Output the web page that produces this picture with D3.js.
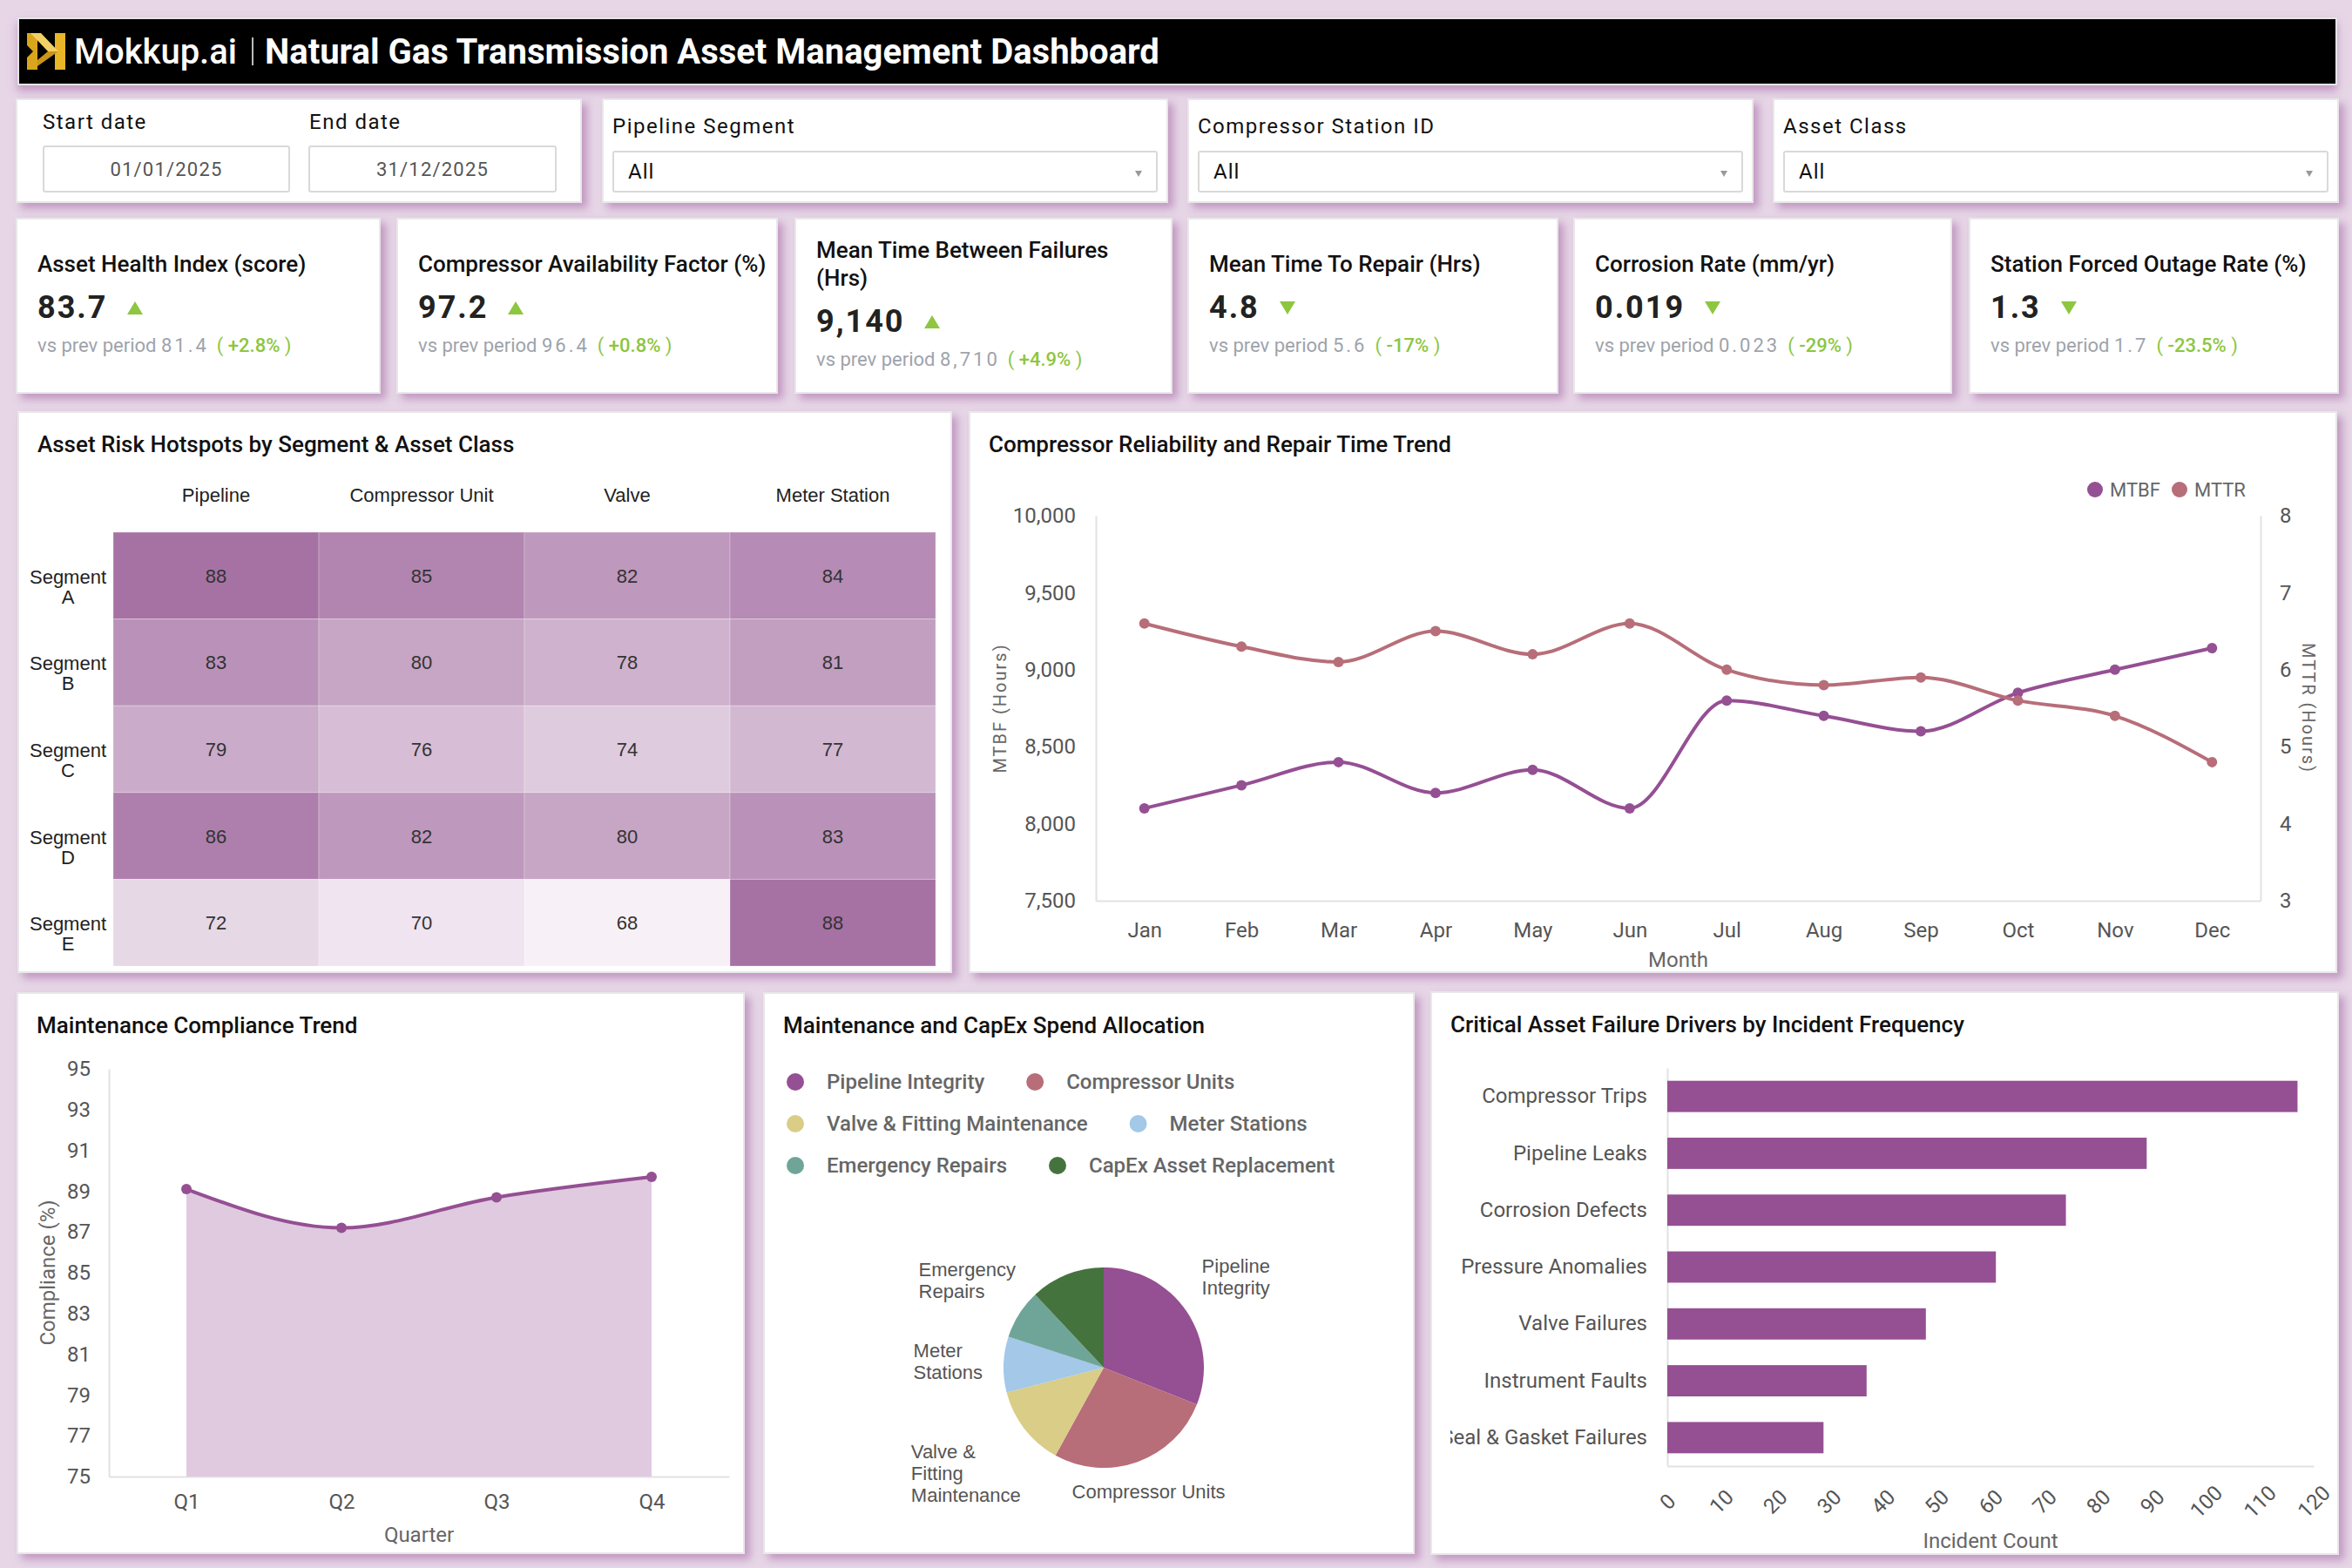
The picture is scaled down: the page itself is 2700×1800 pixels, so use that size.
<!DOCTYPE html>
<html>
<head>
<meta charset="utf-8">
<script src="https://cdn.jsdelivr.net/npm/d3@7"></script>
<style>
  body { margin: 0; width: 2700px; height: 1800px; background: #e6d6e6; font-family: Roboto, sans-serif; position: relative; overflow: hidden; }
  .card { position: absolute; background: #fff; box-sizing: border-box; border: 2px solid #e8e8e8; box-shadow: 6px 6px 9px rgba(170, 110, 170, 0.6); }
  .card svg { position: absolute; left: 0; top: 0; }
  .header { position: absolute; left: 20px; top: 20px; width: 2663px; height: 78px; background: #000; box-sizing: border-box; border: 2px solid #e5e5e5; box-shadow: 0 6px 9px rgba(170, 110, 170, 0.6); display: flex; align-items: center; }
  .brand { color: #fff; font-size: 40px; font-weight: 500; margin-left: 10px; }
  .sep { width: 2px; height: 32px; background: #bbb; margin-left: 17px; }
  .htitle { color: #fff; font-size: 40px; font-weight: 700; margin-left: 13px; }
  .flabel { position: absolute; font-size: 24px; letter-spacing: 1.5px; color: #111; }
  .fbox { position: absolute; box-sizing: border-box; border: 2px solid #d9d9d9; border-radius: 3px; font-size: 22px; letter-spacing: 1.2px; color: #555; display: flex; align-items: center; justify-content: center; }
  .fsel { justify-content: flex-start; padding-left: 16px; font-size: 24px; letter-spacing: 1px; color: #111; }
  .caret { position: absolute; right: 16px; top: 21px; width: 0; height: 0; border-left: 4px solid transparent; border-right: 4px solid transparent; border-top: 7px solid #999; }
  .kpi { display: flex; flex-direction: column; justify-content: center; padding-left: 23px; }
  .kpi-title { font-size: 26px; font-weight: 500; line-height: 32px; color: #111; white-space: pre-line; }
  .kpi-value { margin-top: 8px; height: 52px; display: flex; align-items: center; font-size: 36px; font-weight: 700; letter-spacing: 2px; color: #222; }
  .kpi-value svg { position: static; margin-left: 23px; }
  .kpi-sub { line-height: 36px; font-size: 22px; color: #9ea3ab; white-space: nowrap; }
  .kpi-sub .num { letter-spacing: 3px; }
  .kpi-sub .delta { color: #8dc63f; margin-left: 9px; }
  .kpi-sub .delta b { font-weight: 500; }
  .ctitle { font-size: 26px; font-weight: 500; fill: #111; }
  .axis text { font-family: Roboto, sans-serif; font-size: 24px; fill: #555; }
  .axis path.domain { stroke: #e2e2e2; stroke-width: 2px; }
  .atitle { font-family: Roboto, sans-serif; fill: #666; }
  .hm text { font-family: "Liberation Sans", Arial, sans-serif; font-size: 22px; }
</style>
</head>
<body>
<script>
// ---- data ----
const kpiTitles = ['Asset Health Index (score)', 'Compressor Availability Factor (%)', 'Mean Time Between Failures\n(Hrs)',
  'Mean Time To Repair (Hrs)', 'Corrosion Rate (mm/yr)', 'Station Forced Outage Rate (%)'];
const kpiValues = ['83.7', '97.2', '9,140', '4.8', '0.019', '1.3'];
const kpiPrev = ['81.4', '96.4', '8,710', '5.6', '0.023', '1.7'];
const kpiDelta = ['+2.8%', '+0.8%', '+4.9%', '-17%', '-29%', '-23.5%'];
const kpiUp = [true, true, true, false, false, false];

const filterNames = ['Pipeline Segment', 'Compressor Station ID', 'Asset Class'];
const filterValues = ['All', 'All', 'All'];
const startDate = '01/01/2025';
const endDate = '31/12/2025';

const segments = ['Segment A', 'Segment B', 'Segment C', 'Segment D', 'Segment E'];
const assetClasses = ['Pipeline', 'Compressor Unit', 'Valve', 'Meter Station'];
const riskScores = [
  [88, 85, 82, 84],
  [83, 80, 78, 81],
  [79, 76, 74, 77],
  [86, 82, 80, 83],
  [72, 70, 68, 88]
];

const months = ['Jan', 'Feb', 'Mar', 'Apr', 'May', 'Jun', 'Jul', 'Aug', 'Sep', 'Oct', 'Nov', 'Dec'];
const mtbf = [8100, 8250, 8400, 8200, 8350, 8100, 8800, 8700, 8600, 8850, 9000, 9140];
const mttr = [6.6, 6.3, 6.1, 6.5, 6.2, 6.6, 6.0, 5.8, 5.9, 5.6, 5.4, 4.8];

const quarters = ['Q1', 'Q2', 'Q3', 'Q4'];
const compliance = [89.1, 87.2, 88.7, 89.7];

const spendCategories = ['Pipeline Integrity', 'Compressor Units', 'Valve & Fitting Maintenance', 'Meter Stations', 'Emergency Repairs', 'CapEx Asset Replacement'];
const spendShare = [31, 27, 13, 9, 8, 12];
const spendLabels = [['Pipeline', 'Integrity'], ['Compressor Units'], ['Valve &', 'Fitting', 'Maintenance'], ['Meter', 'Stations'], ['Emergency', 'Repairs'], []];

const failureDrivers = ['Compressor Trips', 'Pipeline Leaks', 'Corrosion Defects', 'Pressure Anomalies', 'Valve Failures', 'Instrument Faults', 'Seal & Gasket Failures'];
const incidentCounts = [117, 89, 74, 61, 48, 37, 29];

const purple = '#954f93';
const rose = '#b76e79';
const spendColors = ['#954f93', '#b76e79', '#d9cd87', '#a3c8e8', '#6ea598', '#45733e'];
const green = '#8dc63f';

const body = d3.select('body');

function card(x, y, w, h) {
  return body.append('div').attr('class', 'card')
    .style('left', x + 'px').style('top', y + 'px')
    .style('width', w + 'px').style('height', h + 'px');
}

function chartTitle(svg, text) {
  svg.append('text').attr('class', 'ctitle').attr('x', 21).attr('y', 45).text(text);
}

// ---- header ----
let header = body.append('div').attr('class', 'header');
let logo = header.append('svg').attr('width', 44).attr('height', 42).style('margin-left', '9px');
logo.append('polygon').attr('points', '0,0 12,0 12,42 0,42 0,28 7,21 0,14').attr('fill', '#d9a51c');
logo.append('polygon').attr('points', '32,0 44,0 44,42 32,42').attr('fill', '#e8b626');
logo.append('polygon').attr('points', '4,0 16,0 36,21 24,21').attr('fill', '#f4d064');
logo.append('polygon').attr('points', '24,21 36,21 12,38 12,31').attr('fill', '#c9951a');
header.append('span').attr('class', 'brand').text('Mokkup.ai');
header.append('span').attr('class', 'sep');
header.append('span').attr('class', 'htitle').text('Natural Gas Transmission Asset Management Dashboard');

// ---- filters ----
let dateCard = card(18, 113, 650, 120);
dateCard.append('div').attr('class', 'flabel').style('left', '29px').style('top', '11px').text('Start date');
dateCard.append('div').attr('class', 'flabel').style('left', '335px').style('top', '11px').text('End date');
dateCard.append('div').attr('class', 'fbox').style('left', '29px').style('top', '52px')
  .style('width', '284px').style('height', '54px').text(startDate);
dateCard.append('div').attr('class', 'fbox').style('left', '334px').style('top', '52px')
  .style('width', '285px').style('height', '54px').text(endDate);

const filterX = [691, 1363, 2035];
filterNames.forEach((name, i) => {
  let c = card(filterX[i], 113, 650, 120);
  c.append('div').attr('class', 'flabel').style('left', '10px').style('top', '16px').text(name);
  let box = c.append('div').attr('class', 'fbox fsel').style('left', '10px').style('top', '58px')
    .style('width', '626px').style('height', '48px').text(filterValues[i]);
  box.append('div').attr('class', 'caret');
});

// ---- KPI cards ----
const kpiX = [18, 455, 912, 1363, 1806, 2260];
const kpiW = [419, 438, 434, 426, 435, 425];
kpiTitles.forEach((t, i) => {
  let c = card(kpiX[i], 250, kpiW[i], 202).classed('kpi', true);
  c.append('div').attr('class', 'kpi-title').text(t);
  let v = c.append('div').attr('class', 'kpi-value');
  v.append('span').text(kpiValues[i]);
  let tri = v.append('svg').attr('width', 18).attr('height', 15);
  tri.append('polygon').attr('fill', green)
    .attr('points', kpiUp[i] ? '9,0 18,15 0,15' : '0,0 18,0 9,15');
  let s = c.append('div').attr('class', 'kpi-sub');
  s.append('span').text('vs prev period ');
  s.append('span').attr('class', 'num').text(kpiPrev[i]);
  let d = s.append('span').attr('class', 'delta');
  d.append('span').text('( ');
  d.append('b').text(kpiDelta[i]);
  d.append('span').text(' )');
});

// ---- heatmap ----
{
  const W = 1073, H = 645;
  let svg = card(20, 472, W, H).append('svg').attr('width', W).attr('height', H);
  chartTitle(svg, 'Asset Risk Hotspots by Segment & Asset Class');
  const x = d3.scaleBand().domain(assetClasses).range([108, 1052]);
  const y = d3.scaleBand().domain(segments).range([137, 635]);
  const color = d3.scaleLinear().domain([68, 88]).range(['#f7f1f7', '#a672a4']);
  let g = svg.append('g').attr('class', 'hm');
  let cells = [];
  riskScores.forEach((row, r) => row.forEach((v, c) => cells.push({seg: segments[r], cls: assetClasses[c], v: v})));
  g.selectAll('rect').data(cells).enter().append('rect')
    .attr('x', d => x(d.cls)).attr('y', d => y(d.seg))
    .attr('width', x.bandwidth()).attr('height', y.bandwidth())
    .attr('fill', d => color(d.v))
    .attr('stroke', 'rgba(255,255,255,0.25)');
  g.selectAll('.val').data(cells).enter().append('text')
    .attr('x', d => x(d.cls) + x.bandwidth() / 2).attr('y', d => y(d.seg) + y.bandwidth() / 2 + 8)
    .attr('text-anchor', 'middle').attr('fill', '#333').text(d => d.v);
  g.selectAll('.col').data(assetClasses).enter().append('text')
    .attr('x', d => x(d) + x.bandwidth() / 2).attr('y', 102)
    .attr('text-anchor', 'middle').attr('fill', '#222').text(d => d);
  let rl = g.selectAll('.row').data(segments).enter().append('text')
    .attr('text-anchor', 'middle').attr('fill', '#222');
  rl.selectAll('tspan').data(d => d.split(' ').map(p => ({p: p, seg: d}))).enter().append('tspan')
    .attr('x', 56).attr('y', (d, i) => y(d.seg) + y.bandwidth() / 2 + 9 + i * 23).text(d => d.p);
}

// ---- reliability / repair trend ----
{
  const W = 1571, H = 645;
  let svg = card(1112, 472, W, H).append('svg').attr('width', W).attr('height', H);
  chartTitle(svg, 'Compressor Reliability and Repair Time Trend');
  const m = {left: 144, right: 1481, top: 118, bottom: 560};
  const x = d3.scalePoint().domain(months).range([m.left, m.right]).padding(0.5);
  const yL = d3.scaleLinear().domain([7500, 10000]).range([m.bottom, m.top]);
  const yR = d3.scaleLinear().domain([3, 8]).range([m.bottom, m.top]);

  svg.append('g').attr('class', 'axis').attr('transform', `translate(${m.left},0)`)
    .call(d3.axisLeft(yL).tickValues(d3.range(7500, 10001, 500)).tickFormat(d3.format(',')).tickSize(0).tickPadding(23));
  svg.append('g').attr('class', 'axis').attr('transform', `translate(${m.right},0)`)
    .call(d3.axisRight(yR).ticks(5).tickSize(0).tickPadding(22));
  svg.append('g').attr('class', 'axis').attr('transform', `translate(0,${m.bottom})`)
    .call(d3.axisBottom(x).tickSize(0).tickPadding(25));

  svg.append('text').attr('class', 'atitle').attr('x', (m.left + m.right) / 2).attr('y', 636)
    .attr('text-anchor', 'middle').attr('font-size', 24).text('Month');
  svg.append('text').attr('class', 'atitle').attr('font-size', 20).attr('letter-spacing', 2)
    .attr('text-anchor', 'middle').attr('transform', `translate(34,${(m.top + m.bottom) / 2}) rotate(-90)`)
    .attr('dy', '0.35em').text('MTBF (Hours)');
  svg.append('text').attr('class', 'atitle').attr('font-size', 20).attr('letter-spacing', 2)
    .attr('text-anchor', 'middle').attr('transform', `translate(1536,${(m.top + m.bottom) / 2}) rotate(90)`)
    .attr('dy', '0.35em').text('MTTR (Hours)');

  const series = [
    {name: 'MTBF', values: mtbf, y: yL, color: purple},
    {name: 'MTTR', values: mttr, y: yR, color: rose}
  ];
  series.forEach(s => {
    const line = d3.line().x((d, i) => x(months[i])).y(d => s.y(d)).curve(d3.curveMonotoneX);
    svg.append('path').attr('d', line(s.values)).attr('fill', 'none')
      .attr('stroke', s.color).attr('stroke-width', 4);
    svg.append('g').selectAll('circle').data(s.values).enter().append('circle')
      .attr('cx', (d, i) => x(months[i])).attr('cy', d => s.y(d)).attr('r', 6).attr('fill', s.color);
  });

  let leg = svg.append('g').selectAll('g').data(series).enter().append('g')
    .attr('transform', (d, i) => `translate(${1291 + i * 97},88)`);
  leg.append('circle').attr('r', 9).attr('fill', d => d.color);
  leg.append('text').attr('x', 17).attr('dy', '0.35em').attr('font-size', 22).attr('fill', '#666').text(d => d.name);
}

// ---- maintenance compliance ----
{
  const W = 836, H = 645;
  let svg = card(19, 1139, W, H).append('svg').attr('width', W).attr('height', H);
  chartTitle(svg, 'Maintenance Compliance Trend');
  const m = {left: 104, right: 816, top: 86, bottom: 554};
  const x = d3.scalePoint().domain(quarters).range([m.left, m.right]).padding(0.5);
  const y = d3.scaleLinear().domain([75, 95]).range([m.bottom, m.top]);

  svg.append('g').attr('class', 'axis').attr('transform', `translate(${m.left},0)`)
    .call(d3.axisLeft(y).tickValues(d3.range(75, 96, 2)).tickSize(0).tickPadding(21));
  svg.append('g').attr('class', 'axis').attr('transform', `translate(0,${m.bottom})`)
    .call(d3.axisBottom(x).tickSize(0).tickPadding(20));

  const area = d3.area().x((d, i) => x(quarters[i])).y0(m.bottom).y1(d => y(d)).curve(d3.curveMonotoneX);
  const line = d3.line().x((d, i) => x(quarters[i])).y(d => y(d)).curve(d3.curveMonotoneX);
  svg.append('path').attr('d', area(compliance)).attr('fill', '#e0cae0');
  svg.append('path').attr('d', line(compliance)).attr('fill', 'none').attr('stroke', purple).attr('stroke-width', 4);
  svg.append('g').selectAll('circle').data(compliance).enter().append('circle')
    .attr('cx', (d, i) => x(quarters[i])).attr('cy', d => y(d)).attr('r', 6).attr('fill', purple);

  svg.append('text').attr('class', 'atitle').attr('x', (m.left + m.right) / 2).attr('y', 629)
    .attr('text-anchor', 'middle').attr('font-size', 24).text('Quarter');
  svg.append('text').attr('class', 'atitle').attr('font-size', 24)
    .attr('text-anchor', 'middle').attr('transform', `translate(34,${(m.top + m.bottom) / 2}) rotate(-90)`)
    .attr('dy', '0.35em').text('Compliance (%)');
}

// ---- spend allocation pie ----
{
  const W = 748, H = 645;
  let svg = card(876, 1139, W, H).append('svg').attr('width', W).attr('height', H);
  chartTitle(svg, 'Maintenance and CapEx Spend Allocation');

  // legend, flowing left to right and wrapping
  let lx = 35, ly = 101;
  spendCategories.forEach((name, i) => {
    let g = svg.append('g');
    let t = g.append('text').attr('x', 36).attr('dy', '0.35em')
      .attr('font-size', 24).attr('font-weight', 500).attr('fill', '#666').text(name);
    let w = t.node().getComputedTextLength();
    if (lx > 35 && lx + 36 + w > 720) { lx = 35; ly += 48; }
    g.append('circle').attr('r', 10).attr('fill', spendColors[i]);
    g.attr('transform', `translate(${lx},${ly})`);
    lx += 36 + w + 58;
  });

  const cx = 389, cy = 429, r = 115;
  const pie = d3.pie().sort(null).value(d => d.v);
  const arcs = pie(spendCategories.map((n, i) => ({name: n, v: spendShare[i], color: spendColors[i], label: spendLabels[i]})));
  const arc = d3.arc().innerRadius(0).outerRadius(r);
  let pg = svg.append('g').attr('transform', `translate(${cx},${cy})`);
  pg.selectAll('path').data(arcs).enter().append('path').attr('d', arc).attr('fill', d => d.data.color);

  // outside labels: box edge facing the pie touches a point just outside the slice
  const lh = 25;
  arcs.forEach(d => {
    if (!d.data.label.length) return;
    const a = (d.startAngle + d.endAngle) / 2;
    const ux = Math.sin(a), uy = -Math.cos(a);
    let t = pg.append('text').attr('font-family', '"Liberation Sans", Arial, sans-serif')
      .attr('font-size', 22).attr('fill', '#555');
    let spans = d.data.label.map(l => t.append('tspan').text(l));
    let w = d3.max(spans, s => s.node().getComputedTextLength());
    let h = spans.length * lh;
    let tt = Math.min(Math.abs(ux) > 1e-6 ? (w / 2) / Math.abs(ux) : 1e9, Math.abs(uy) > 1e-6 ? (h / 2) / Math.abs(uy) : 1e9);
    let ax = (r + 24) * ux, ay = (r + 24) * uy;
    let bx = ax + tt * ux, by = ay + tt * uy;
    spans.forEach((s, k) => s.attr('x', bx - w / 2).attr('y', by - h / 2 + 19 + k * lh));
  });
}

// ---- failure drivers bar chart ----
{
  const W = 1043, H = 647;
  let svg = card(1642, 1138, W, H).append('svg').attr('width', W).attr('height', H);
  chartTitle(svg, 'Critical Asset Failure Drivers by Incident Frequency');
  const m = {left: 270, right: 1012, top: 86, bottom: 543};
  const x = d3.scaleLinear().domain([0, 120]).range([m.left, m.right]);
  const y = d3.scaleBand().domain(failureDrivers).range([m.top, m.bottom]).paddingInner(0.45).paddingOuter(0.225);

  // category labels are cut off at the plot container's left edge
  svg.append('clipPath').attr('id', 'ylab').append('rect').attr('x', 21).attr('y', 0).attr('width', W).attr('height', H);
  svg.append('g').attr('clip-path', 'url(#ylab)')
    .append('g').attr('class', 'axis').attr('transform', `translate(${m.left},0)`)
    .call(d3.axisLeft(y).tickSize(0).tickPadding(23));
  let xa = svg.append('g').attr('class', 'axis').attr('transform', `translate(0,${m.bottom})`)
    .call(d3.axisBottom(x).tickValues(d3.range(0, 121, 10)).tickSize(0));
  xa.selectAll('text').attr('y', 0).attr('dy', null)
    .attr('text-anchor', 'middle').attr('dominant-baseline', 'central')
    .attr('transform', 'translate(0,41) rotate(-45)');

  svg.append('g').selectAll('rect').data(failureDrivers).enter().append('rect')
    .attr('x', m.left).attr('y', d => y(d))
    .attr('width', (d, i) => x(incidentCounts[i]) - m.left).attr('height', y.bandwidth())
    .attr('fill', purple);

  svg.append('text').attr('class', 'atitle').attr('x', (m.left + m.right) / 2).attr('y', 637)
    .attr('text-anchor', 'middle').attr('font-size', 24).text('Incident Count');
}
</script>
</body>
</html>
